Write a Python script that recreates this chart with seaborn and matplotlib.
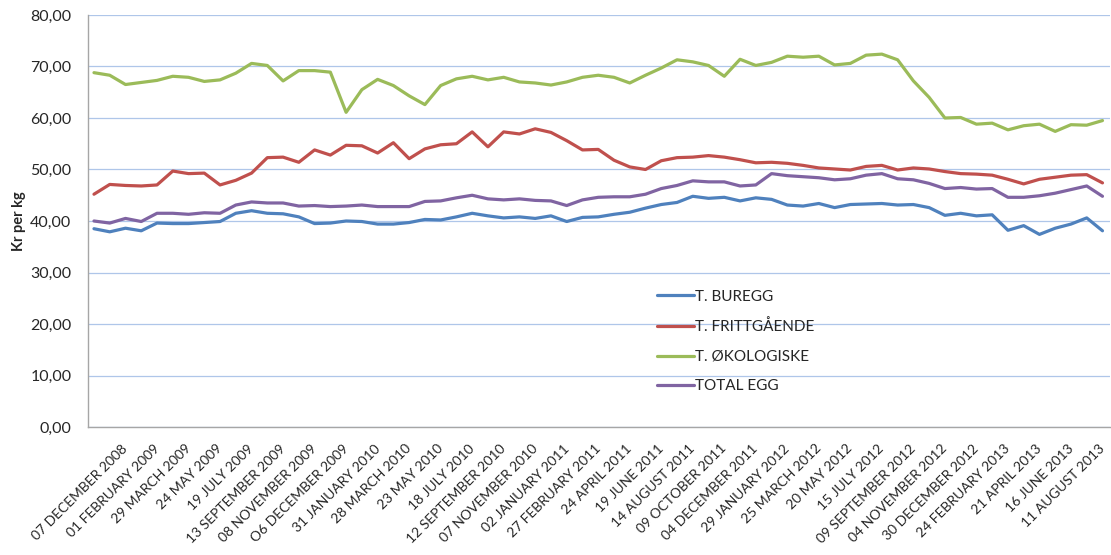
import numpy as np
import pandas as pd
import seaborn as sns
import matplotlib.pyplot as plt
from matplotlib.transforms import ScaledTranslation

sns.set_style('white')
plt.rcParams['font.family'] = ['Lato', 'DejaVu Sans']

# 4-week price series, Kr per kg (65 periods)
buregg = [38.5, 37.9, 38.6, 38.1, 39.6, 39.5, 39.5, 39.7, 39.9, 41.5, 42.0, 41.5, 41.4, 40.8, 39.5, 39.6, 40.0,
          39.9, 39.4, 39.4, 39.7, 40.3, 40.2, 40.8, 41.5, 41.0, 40.6, 40.8, 40.5, 41.0, 39.9, 40.7, 40.8,
          41.3, 41.7, 42.5, 43.2, 43.6, 44.8, 44.4, 44.6, 43.9, 44.5, 44.2, 43.1, 42.9, 43.4, 42.6, 43.2,
          43.3, 43.4, 43.1, 43.2, 42.6, 41.1, 41.5, 41.0, 41.2, 38.2, 39.1, 37.4, 38.6, 39.4, 40.6, 38.1]
frittgaende = [45.2, 47.1, 46.9, 46.8, 47.0, 49.7, 49.2, 49.3, 47.0, 47.9, 49.3, 52.3, 52.4, 51.4, 53.8, 52.8, 54.7,
               54.6, 53.2, 55.2, 52.1, 54.0, 54.8, 55.0, 57.3, 54.4, 57.3, 56.9, 57.9, 57.2, 55.6, 53.8, 53.9,
               51.8, 50.5, 50.0, 51.7, 52.3, 52.4, 52.7, 52.4, 51.9, 51.3, 51.4, 51.2, 50.8, 50.3, 50.1, 49.9,
               50.6, 50.8, 49.9, 50.3, 50.1, 49.6, 49.2, 49.1, 48.9, 48.1, 47.2, 48.1, 48.5, 48.9, 49.0, 47.4]
okologiske = [68.8, 68.3, 66.5, 66.9, 67.3, 68.1, 67.9, 67.1, 67.4, 68.7, 70.6, 70.2, 67.2, 69.2, 69.2, 68.9, 61.1,
              65.5, 67.5, 66.3, 64.3, 62.6, 66.3, 67.6, 68.1, 67.4, 67.9, 67.0, 66.8, 66.4, 67.0, 67.9, 68.3,
              67.9, 66.8, 68.3, 69.7, 71.3, 70.9, 70.2, 68.1, 71.4, 70.2, 70.8, 72.0, 71.8, 72.0, 70.3, 70.6,
              72.2, 72.4, 71.3, 67.2, 64.0, 60.0, 60.1, 58.8, 59.0, 57.7, 58.5, 58.8, 57.4, 58.7, 58.6, 59.5]
total_egg = [40.0, 39.6, 40.5, 39.9, 41.5, 41.5, 41.3, 41.6, 41.5, 43.1, 43.7, 43.5, 43.5, 42.9, 43.0, 42.8, 42.9,
             43.1, 42.8, 42.8, 42.8, 43.8, 43.9, 44.5, 45.0, 44.3, 44.1, 44.3, 44.0, 43.9, 43.0, 44.1, 44.6,
             44.7, 44.7, 45.2, 46.3, 46.9, 47.8, 47.6, 47.6, 46.8, 47.0, 49.2, 48.8, 48.6, 48.4, 48.0, 48.2,
             48.9, 49.2, 48.2, 48.0, 47.3, 46.3, 46.5, 46.2, 46.3, 44.6, 44.6, 44.9, 45.4, 46.1, 46.8, 44.8]

date_labels = ['07 DECEMBER 2008', '01 FEBRUARY 2009', '29 MARCH 2009', '24 MAY 2009', '19 JULY 2009',
               '13 SEPTEMBER 2009', '08 NOVEMBER 2009', 'O6 DECEMBER 2009', '31 JANUARY 2010', '28 MARCH 2010',
               '23 MAY 2010', '18 JULY 2010', '12 SEPTEMBER 2010', '07 NOVEMBER 2010', '02 JANUARY 2011',
               '27 FEBRUARY 2011', '24 APRIL 2011', '19 JUNE 2011', '14 AUGUST 2011', '09 OCTOBER 2011',
               '04 DECEMBER 2011', '29 JANUARY 2012', '25 MARCH 2012', '20 MAY 2012', '15 JULY 2012',
               '09 SEPTEMBER 2012', '04 NOVEMBER 2012', '30 DECEMBER 2012', '24 FEBRUARY 2013', '21 APRIL 2013',
               '16 JUNE 2013', '11 AUGUST 2013']

series_names = ['T. BUREGG', 'T. FRITTGÅENDE', 'T. ØKOLOGISKE', 'TOTAL EGG']
colors = ['#4F81BD', '#C0504D', '#9BBB59', '#8064A2']

n = len(buregg)
period = np.arange(n)
df = pd.concat([
    pd.DataFrame({'period': period, 'price': vals, 'series': name})
    for name, vals in zip(series_names, [buregg, frittgaende, okologiske, total_egg])
])

fig = plt.figure(figsize=(11.11, 5.55), dpi=100)
ax = fig.add_axes([0.0792, 0.2306, 0.9198, 0.7424])

sns.lineplot(data=df, x='period', y='price', hue='series', hue_order=series_names,
             palette=dict(zip(series_names, colors)), linewidth=2.3, ax=ax)

ax.set_ylim(0, 80)
ax.set_xlim(-0.38, n - 1 + 0.47)
ax.set_yticks(np.arange(0, 81, 10))
ax.set_yticklabels([f'{v:.2f}'.replace('.', ',') for v in np.arange(0, 81, 10)], fontsize=11.5)
ax.yaxis.grid(True, color='#AFC6E9', linewidth=0.9)
ax.set_axisbelow(True)

tick_pos = period[2::2]
ax.set_xticks(tick_pos)
ax.set_xticklabels(date_labels, rotation=45, ha='right', va='top', rotation_mode='anchor', fontsize=10)
ax.tick_params(axis='both', length=0)
ax.tick_params(axis='x', pad=11)
ax.tick_params(axis='y', pad=12)
shift = ScaledTranslation(-4 / 100, 0, fig.dpi_scale_trans)
for lbl in ax.get_xticklabels():
    lbl.set_transform(lbl.get_transform() + shift)

for s in ['top', 'right']:
    ax.spines[s].set_visible(False)
for s in ['left', 'bottom']:
    ax.spines[s].set_color('#A6A6A6')
    ax.spines[s].set_linewidth(1.0)

ax.set_xlabel('')
ax.set_ylabel('Kr per kg', fontsize=10.5, fontweight='bold', labelpad=3)

ax.legend(loc='upper left', bbox_to_anchor=(0.557, 0.333), frameon=False, fontsize=11,
          handlelength=2.4, handletextpad=0.05, labelspacing=1.02, borderpad=0, borderaxespad=0)

fig.savefig('out.png', dpi=100)
